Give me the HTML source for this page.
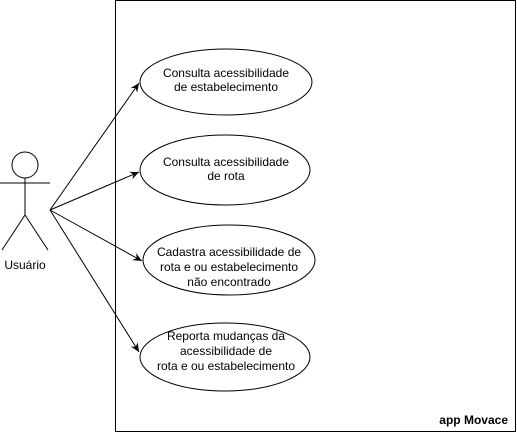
<!DOCTYPE html>
<html><head><style>body{margin:0;background:#fff}svg{display:block}text{font-family:"Liberation Sans",Arial,sans-serif;font-size:12px;fill:#000}</style></head><body>
<svg width="517" height="434" xmlns="http://www.w3.org/2000/svg">
<defs><marker id="a" markerWidth="10" markerHeight="10" refX="9" refY="5" orient="auto" markerUnits="userSpaceOnUse"><path d="M0,1 L9,5 L0,9 L3,5 Z" fill="#000"/></marker></defs>
<rect x="115.5" y="0.5" width="400" height="431" fill="none" stroke="#000"/>
<text x="508" y="424" text-anchor="end" font-weight="bold" style="font-weight:bold">app Movace</text>
<g fill="none" stroke="#000">
<circle cx="25" cy="165" r="13"/>
<line x1="25" y1="178" x2="25" y2="215"/>
<line x1="0" y1="183" x2="50" y2="183"/>
<line x1="25" y1="215" x2="2" y2="250"/>
<line x1="25" y1="215" x2="48" y2="250"/>
<line x1="50" y1="210" x2="139" y2="83" marker-end="url(#a)"/>
<line x1="50" y1="210" x2="139" y2="172" marker-end="url(#a)"/>
<line x1="50" y1="210" x2="142" y2="261" marker-end="url(#a)"/>
<line x1="50" y1="210" x2="139" y2="352" marker-end="url(#a)"/>
<ellipse cx="226" cy="82" rx="86" ry="33" fill="#fff"/>
<ellipse cx="225" cy="170" rx="85" ry="35" fill="#fff"/>
<ellipse cx="229" cy="260" rx="86" ry="35" fill="#fff"/>
<ellipse cx="225" cy="357" rx="85" ry="34" fill="#fff"/>
</g>
<text x="25" y="269" text-anchor="middle">Usuário</text>
<g text-anchor="middle">
<text x="226" y="77">Consulta acessibilidade</text><text x="226" y="91">de estabelecimento</text>
<text x="226" y="166">Consulta acessibilidade</text><text x="226" y="180">de rota</text>
<text x="229" y="256">Cadastra acessibilidade de</text><text x="229" y="271">rota e ou estabelecimento</text><text x="229" y="286">não encontrado</text>
<text x="226" y="340">Reporta mudanças da</text><text x="226" y="355">acessibilidade de</text><text x="226" y="370">rota e ou estabelecimento</text>
</g>
</svg>
</body></html>
